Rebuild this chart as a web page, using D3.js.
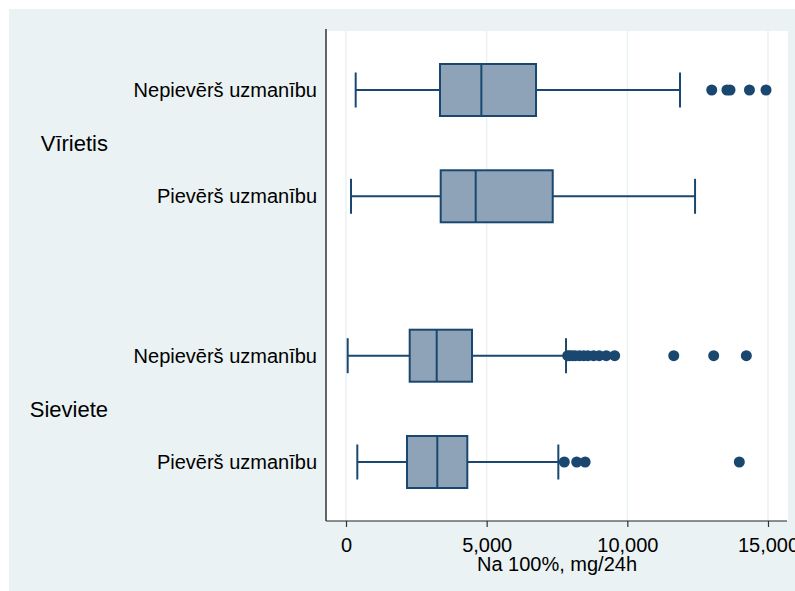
<!DOCTYPE html>
<html lang="lv">
<head>
<meta charset="UTF-8">
<title>Na 100% boxplot</title>
<style>
    body { margin: 0; padding: 0; background: white; }
    text { font-family: "Liberation Sans", Arial, sans-serif; fill: #000; }
</style>
</head>
<body>
<script src="https://cdn.jsdelivr.net/npm/d3@7"></script>
<script>
    // groups and categories, top to bottom
    var groups = ['Vīrietis', 'Sieviete'];
    var categories = ['Nepievērš uzmanību', 'Pievērš uzmanību'];

    // box stats per row: [min whisker, q1, median, q3, max whisker]
    var maleNo = [344, 3341, 4811, 6754, 11873];
    var maleYes = [178, 3366, 4610, 7348, 12407];
    var femaleNo = [60, 2264, 3224, 4479, 7821];
    var femaleYes = [402, 2168, 3245, 4312, 7547];

    // outliers per row
    var maleNoOut = [13000, 13540, 13650, 14340, 14930];
    var maleYesOut = [];
    var femaleNoOut = [7880, 7950, 8050, 8150, 8300, 8450, 8600, 8800, 9000, 9250, 9550, 11650, 13070, 14230];
    var femaleYesOut = [7760, 8200, 8500, 13980];

    var xTicks = [0, 5000, 10000, 15000];

    var rows = [
        { group: 0, cat: 0, pos: 0, s: maleNo, out: maleNoOut },
        { group: 0, cat: 1, pos: 1, s: maleYes, out: maleYesOut },
        { group: 1, cat: 0, pos: 2.5, s: femaleNo, out: femaleNoOut },
        { group: 1, cat: 1, pos: 3.5, s: femaleYes, out: femaleYesOut }
    ];

    var W = 795, H = 591;
    var plot = { left: 326, right: 788, top: 31, bottom: 521 };
    var navy = '#1a476f';

    var svg = d3.select('body').append('svg')
        .attr('width', W).attr('height', H);

    svg.append('rect')
        .attr('x', 9).attr('y', 9)
        .attr('width', W).attr('height', H)
        .attr('fill', '#eaf2f3');

    svg.append('rect')
        .attr('x', plot.left).attr('y', plot.top)
        .attr('width', plot.right - plot.left).attr('height', plot.bottom - plot.top)
        .attr('fill', 'white');

    var x = d3.scaleLinear()
        .domain([0, 15000])
        .range([346, 768]);

    var y = d3.scaleLinear()
        .domain([0, 3.5])
        .range([90, 462]);

    // grid
    svg.selectAll('line.grid')
        .data(xTicks)
        .enter().append('line')
        .attr('class', 'grid')
        .attr('x1', function(d) { return x(d) }).attr('x2', function(d) { return x(d) })
        .attr('y1', plot.top).attr('y2', plot.bottom)
        .attr('stroke', '#eaf2f3')
        .attr('stroke-width', 1.5);

    // x axis
    var xAxis = d3.axisBottom(x)
        .tickValues(xTicks)
        .tickSize(6)
        .tickPadding(11)
        .tickFormat(d3.format(','));

    var gx = svg.append('g')
        .attr('transform', 'translate(0,' + plot.bottom + ')')
        .call(xAxis);
    gx.select('.domain').remove();
    gx.append('line')
        .attr('x1', plot.left).attr('x2', plot.right - 1)
        .attr('stroke', '#222').attr('stroke-width', 1.2);
    gx.selectAll('.tick line').attr('stroke', '#333').attr('stroke-width', 1.2);
    gx.selectAll('.tick text')
        .style('font-family', '"Liberation Sans", Arial, sans-serif')
        .style('font-size', '20px')
        .attr('fill', '#000');

    // left axis line
    svg.append('line')
        .attr('x1', plot.left).attr('x2', plot.left)
        .attr('y1', plot.top - 2).attr('y2', plot.bottom)
        .attr('stroke', '#333').attr('stroke-width', 1.5);

    svg.append('text')
        .attr('x', (plot.left + plot.right) / 2)
        .attr('y', 571)
        .attr('text-anchor', 'middle')
        .style('font-size', '20px')
        .text('Na 100%, mg/24h');

    // labels
    svg.selectAll('text.cat')
        .data(rows)
        .enter().append('text')
        .attr('class', 'cat')
        .attr('x', 317)
        .attr('y', function(d) { return y(d.pos) })
        .attr('dy', '0.36em')
        .attr('text-anchor', 'end')
        .style('font-size', '20px')
        .text(function(d) { return categories[d.cat] });

    svg.selectAll('text.grp')
        .data(groups)
        .enter().append('text')
        .attr('class', 'grp')
        .attr('x', 108)
        .attr('y', function(d, i) { return y(i * 2.5 + 0.5) })
        .attr('dy', '0.36em')
        .attr('text-anchor', 'end')
        .style('font-size', '22px')
        .text(function(d) { return d });

    // boxes
    var halfBox = 26, halfCap = 17.5;
    var g = svg.selectAll('g.box')
        .data(rows)
        .enter().append('g')
        .attr('class', 'box')
        .attr('transform', function(d) { return 'translate(0,' + y(d.pos) + ')' });

    g.append('line')
        .attr('x1', function(d) { return x(d.s[0]) })
        .attr('x2', function(d) { return x(d.s[1]) })
        .attr('stroke', navy).attr('stroke-width', 2);
    g.append('line')
        .attr('x1', function(d) { return x(d.s[3]) })
        .attr('x2', function(d) { return x(d.s[4]) })
        .attr('stroke', navy).attr('stroke-width', 2);
    g.append('line')
        .attr('x1', function(d) { return x(d.s[0]) })
        .attr('x2', function(d) { return x(d.s[0]) })
        .attr('y1', -halfCap).attr('y2', halfCap)
        .attr('stroke', navy).attr('stroke-width', 2);
    g.append('line')
        .attr('x1', function(d) { return x(d.s[4]) })
        .attr('x2', function(d) { return x(d.s[4]) })
        .attr('y1', -halfCap).attr('y2', halfCap)
        .attr('stroke', navy).attr('stroke-width', 2);
    g.append('rect')
        .attr('x', function(d) { return x(d.s[1]) })
        .attr('width', function(d) { return x(d.s[3]) - x(d.s[1]) })
        .attr('y', -halfBox).attr('height', halfBox * 2)
        .attr('fill', '#8ea3b7')
        .attr('stroke', navy).attr('stroke-width', 2);
    g.append('line')
        .attr('x1', function(d) { return x(d.s[2]) })
        .attr('x2', function(d) { return x(d.s[2]) })
        .attr('y1', -halfBox).attr('y2', halfBox)
        .attr('stroke', navy).attr('stroke-width', 2);

    g.selectAll('circle')
        .data(function(d) { return d.out })
        .enter().append('circle')
        .attr('cx', function(d) { return x(d) })
        .attr('cy', 0)
        .attr('r', 5.5)
        .attr('fill', navy);
</script>
</body>
</html>
